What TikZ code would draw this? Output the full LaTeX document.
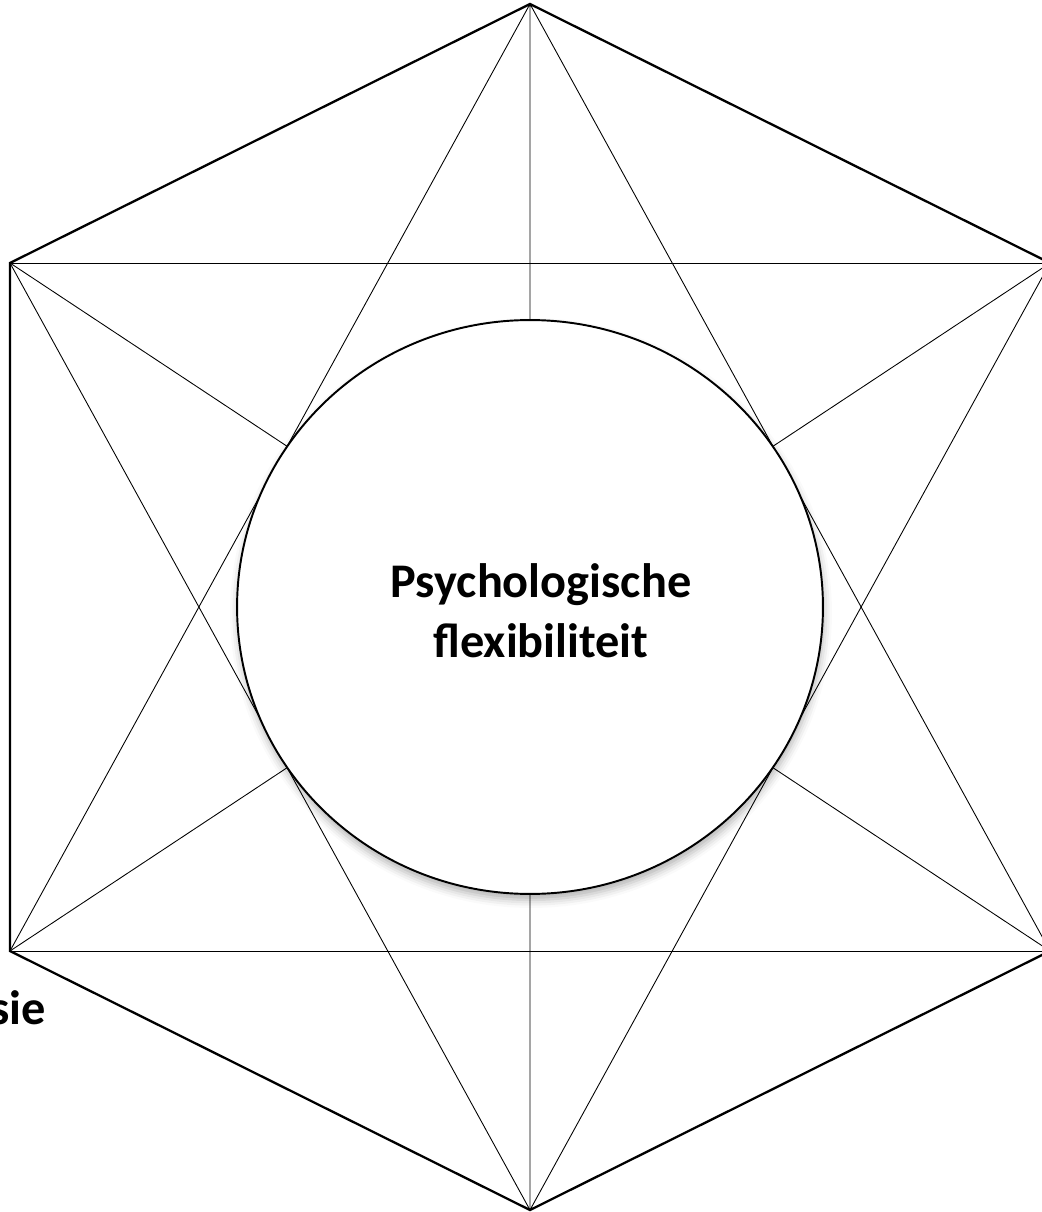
\documentclass[tikz,border=0pt]{standalone}
\usepackage{fontspec}
\setmainfont{Carlito}
\usetikzlibrary{shapes.geometric,shadows.blur}

\begin{document}
\begin{tikzpicture}[x=0.02cm,y=-0.02cm,
  rand/.style={line width=1.3pt,line join=miter},
  lijn/.style={line width=0.5pt},
  kern/.style={draw,ellipse,fill=white,line width=1.1pt,minimum width=11.72cm,
               minimum height=11.48cm,inner sep=0pt,
               blur shadow={shadow xshift=0.2mm,shadow yshift=-1.2mm,
                            shadow blur radius=1.6mm,shadow opacity=30}},
  tekst/.style={align=center,font=\fontsize{27.5}{34}\selectfont\bfseries}]
\useasboundingbox (0,0) rectangle (1041,1212);
\coordinate (top) at (530,4);
\coordinate (rb) at (1050,263);
\coordinate (ro) at (1050,951);
\coordinate (bodem) at (530,1210);
\coordinate (lo) at (10,951);
\coordinate (lb) at (10,263);
% diagonalen
\draw[lijn] (top)--(lo) (top)--(ro) (top)--(bodem);
\draw[lijn] (bodem)--(lb) (bodem)--(rb);
\draw[lijn] (lb)--(rb) (lo)--(ro);
\draw[lijn] (lb)--(ro) (rb)--(lo);
% zeshoek
\draw[rand] (top)--(rb)--(ro)--(bodem)--(lo)--(lb)--cycle;
\node[kern] (flex) at (530,607) {};
\node[tekst] (flextekst) at (541,611) {Psychologische\\flexibiliteit};
\node[tekst,anchor=base east,inner sep=0pt] (sie) at (46,1024) {sie};
\end{tikzpicture}
\end{document}
